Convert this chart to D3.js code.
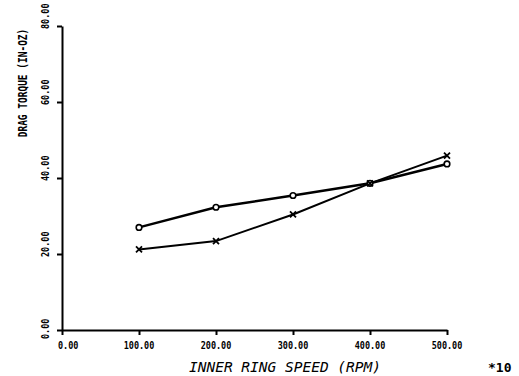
<!DOCTYPE html>
<html>
<head>
<meta charset="utf-8">
<script src="https://cdn.jsdelivr.net/npm/d3@7"></script>
<style>
  body { margin: 0; background: #fff; }
  svg { display: block; }
</style>
</head>
<body>
<figure id="chart" style="margin:0"></figure>
<script>
const speeds = [100, 200, 300, 400, 500];
const circleSeries = [27.0, 32.3, 35.4, 38.6, 43.7];
const crossSeries = [21.2, 23.4, 30.4, 38.6, 45.9];
const xTicks = [0, 100, 200, 300, 400, 500];
const yTicks = [0, 20, 40, 60, 80];

const width = 519, height = 376;
const svg = d3.select('#chart').append('svg')
  .attr('width', width)
  .attr('height', height);

const x = d3.scaleLinear().domain([0, 500]).range([62, 447]);
const y = d3.scaleLinear().domain([0, 80]).range([330, 26]);

const mono = 'DejaVu Sans Mono, monospace';

// x axis
const xAxis = svg.append('g')
  .attr('transform', 'translate(0,330)')
  .call(d3.axisBottom(x).tickValues(xTicks).tickSize(5).tickSizeOuter(0).tickFormat(''));
xAxis.select('.domain').attr('stroke', '#000').attr('stroke-width', 2);
xAxis.selectAll('.tick line').attr('stroke', '#000').attr('stroke-width', 2);

// y axis
const yAxis = svg.append('g')
  .attr('transform', 'translate(62,0)')
  .call(d3.axisLeft(y).tickValues(yTicks).tickSize(5).tickSizeOuter(0).tickFormat(''));
yAxis.select('.domain').attr('stroke', '#000').attr('stroke-width', 2);
yAxis.selectAll('.tick line').attr('stroke', '#000').attr('stroke-width', 2);

// x tick labels (font squeezed a little horizontally, like the plotter lettering)
svg.append('g').selectAll('text')
  .data(xTicks)
  .join('text')
  .attr('transform', d => 'translate(' + (d === 0 ? x(d) - 4 : x(d)) + ',349) scale(0.85,1)')
  .attr('text-anchor', d => d === 0 ? 'start' : 'middle')
  .attr('font-family', mono)
  .attr('font-weight', 'bold')
  .attr('font-size', 10)
  .text(d => d.toFixed(2));

// y tick labels
svg.append('g').selectAll('text')
  .data(yTicks)
  .join('text')
  .attr('transform', d => 'translate(49,' + (y(d) + (d === 0 ? 9 : 3)) + ') rotate(-90) scale(0.85,1)')
  .attr('font-family', mono)
  .attr('font-weight', 'bold')
  .attr('font-size', 10)
  .text(d => d.toFixed(2));

// axis titles
svg.append('text')
  .attr('transform', 'translate(285,372) scale(1.0,1)')
  .attr('text-anchor', 'middle')
  .attr('font-family', mono)
  .attr('font-style', 'italic')
  .attr('font-size', 14.5)
  .text('INNER RING SPEED (RPM)');

svg.append('text')
  .attr('x', 488)
  .attr('y', 372)
  .attr('font-family', mono)
  .attr('font-weight', 'bold')
  .attr('font-size', 13)
  .text('*10');

svg.append('text')
  .attr('transform', 'translate(27,83) rotate(-90) scale(0.76,1)')
  .attr('text-anchor', 'middle')
  .attr('font-family', mono)
  .attr('font-weight', 'bold')
  .attr('font-size', 12.5)
  .text('DRAG TORQUE (IN-OZ)');

// lines
const line = d3.line()
  .x((d, i) => x(speeds[i]))
  .y(d => y(d));

svg.append('path')
  .datum(crossSeries)
  .attr('d', line)
  .attr('fill', 'none')
  .attr('stroke', '#000')
  .attr('stroke-width', 2);

svg.append('path')
  .datum(circleSeries)
  .attr('d', line)
  .attr('fill', 'none')
  .attr('stroke', '#000')
  .attr('stroke-width', 2.5);

// markers
svg.append('g').selectAll('circle')
  .data(circleSeries)
  .join('circle')
  .attr('cx', (d, i) => x(speeds[i]))
  .attr('cy', d => y(d))
  .attr('r', 2.8)
  .attr('fill', '#fff')
  .attr('stroke', '#000')
  .attr('stroke-width', 1.6);

svg.append('g').selectAll('path')
  .data(crossSeries)
  .join('path')
  .attr('transform', (d, i) => 'translate(' + x(speeds[i]) + ',' + y(d) + ')')
  .attr('d', 'M-3,-3L3,3M-3,3L3,-3')
  .attr('stroke', '#000')
  .attr('stroke-width', 1.8);
</script>
</body>
</html>
